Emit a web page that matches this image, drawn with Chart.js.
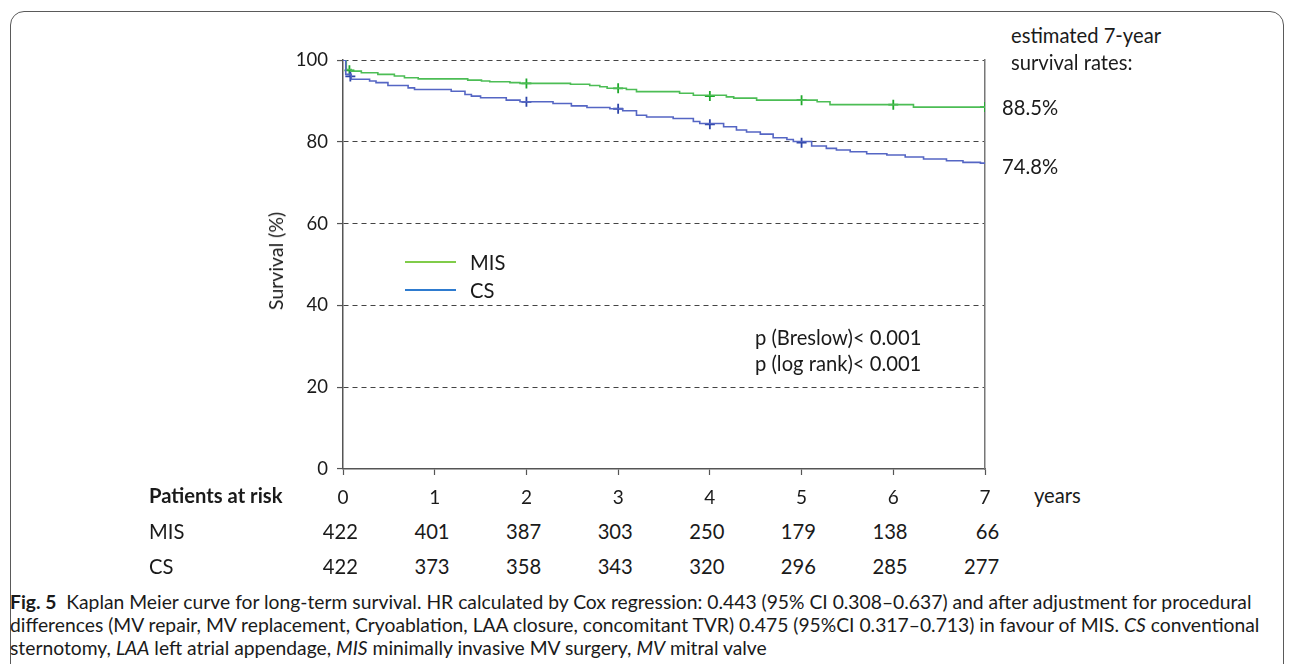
<!DOCTYPE html>
<html lang="en">
<head>
<meta charset="UTF-8">
<title>Kaplan Meier curve for long-term survival</title>
<script src="https://cdn.jsdelivr.net/npm/chart.js"></script>
<style>
  body { margin: 0; background: #fff; color: #1a1a1a; font-family: Lato, "Open Sans", sans-serif; }
  .frame { position: absolute; left: 10px; top: 11px; width: 1272px; height: 720px; border: 1px solid #5a5a5a; border-radius: 14px; }
  .box { position: absolute; left: 260px; top: 40px; width: 750px; height: 470px; }
  .t { position: absolute; white-space: nowrap; font-size: 20.2px; line-height: 22px; }
  .num { position: absolute; width: 60px; text-align: right; font-size: 20.2px; line-height: 22px; }
  .leg { position: absolute; height: 0; width: 51px; border-top: 2px solid; }
  .ylab { position: absolute; left: 276px; top: 261px; font-size: 19.5px; line-height: 22px; white-space: nowrap;
          transform: translate(-50%, -50%) rotate(-90deg); }
  .caption { position: absolute; left: 10px; top: 590px; font-size: 19.3px; line-height: 23px; white-space: nowrap; }
  .caption b { font-weight: 700; }
</style>
</head>
<body>
<div class="frame"></div>
<div class="box"><canvas id="km"></canvas></div>

<div class="t" style="left:1011px; top:24px">estimated 7-year</div>
<div class="t" style="left:1011px; top:51px">survival rates:</div>
<div class="t" style="left:1002px; top:96px">88.5%</div>
<div class="t" style="left:1002px; top:155px">74.8%</div>

<div class="leg" style="left:405px; top:261px; border-color:#80cc4a"></div>
<div class="t" style="left:470px; top:251px">MIS</div>
<div class="leg" style="left:405px; top:289px; border-color:#2e7bcf"></div>
<div class="t" style="left:470px; top:279px">CS</div>

<div class="t" style="left:755px; top:326px">p (Breslow)&lt; 0.001</div>
<div class="t" style="left:755px; top:352px">p (log rank)&lt; 0.001</div>

<div class="ylab">Survival (%)</div>

<div class="t" style="left:149px; top:484px; font-weight:700">Patients at risk</div>
<div class="t" style="left:1034px; top:484px">years</div>
<div class="t" style="left:149px; top:520px">MIS</div>
<div class="t" style="left:149px; top:555px">CS</div>
<div id="risk"></div>

<div class="caption">
<b>Fig. 5</b>&nbsp; Kaplan Meier curve for long-term survival. HR calculated by Cox regression: 0.443 (95% CI 0.308–0.637) and after adjustment for procedural<br>
differences (MV repair, MV replacement, Cryoablation, LAA closure, concomitant TVR) 0.475 (95%CI 0.317–0.713) in favour of MIS. <i>CS</i> conventional<br>
sternotomy, <i>LAA</i> left atrial appendage, <i>MIS</i> minimally invasive MV surgery, <i>MV</i> mitral valve
</div>

<script>
// years after surgery where a step happens, and survival (%) after the step
const misYears = [0, 0.036, 0.09, 0.2, 0.38, 0.56, 0.67, 0.82, 1.36, 1.51, 1.6, 1.82, 1.93, 2.48, 2.69, 2.8, 2.88, 3.09, 3.2, 3.67, 3.82, 4.18, 4.26, 4.51, 5.17, 5.31, 6.22, 7.0];
const misSurv  = [100, 97.7, 97.3, 96.9, 96.5, 96.1, 95.7, 95.4, 95.1, 94.9, 94.7, 94.5, 94.3, 94.1, 93.8, 93.5, 93.1, 92.8, 92.3, 91.9, 91.4, 91.0, 90.7, 90.2, 89.8, 89.1, 88.5, 88.5];

const csYears = [0, 0.03, 0.09, 0.29, 0.36, 0.49, 0.71, 0.78, 1.18, 1.33, 1.40, 1.5, 1.78, 1.93, 2.29, 2.49, 2.66, 2.91, 3.05, 3.2, 3.31, 3.6, 3.82, 3.89, 4.15, 4.29, 4.4, 4.55, 4.69, 4.84, 4.91, 5.11, 5.27, 5.38, 5.53, 5.71, 5.93, 6.13, 6.33, 6.58, 6.76, 6.95, 7.0];
const csSurv  = [100, 96.5, 95.3, 94.9, 94.5, 93.8, 93.2, 92.8, 92.4, 91.6, 91.2, 90.8, 90.2, 89.8, 89.4, 88.8, 88.4, 88.1, 87.6, 86.5, 86.1, 85.7, 85.0, 84.5, 83.7, 82.9, 82.4, 81.9, 81.0, 80.6, 80.1, 79.0, 78.4, 78.0, 77.6, 77.1, 76.8, 76.3, 75.8, 75.4, 75.0, 74.8, 74.8];

// censoring marks (+)
const misMarkYears = [0.07, 2, 3, 4, 5, 6, 7];
const misMarkSurv  = [97.5, 94.3, 93.1, 91.2, 90.2, 89.1, 88.5];
const csMarkYears  = [0.08, 2, 3, 4, 5];
const csMarkSurv   = [96.0, 89.8, 88.1, 84.3, 79.8];

// patients at risk
const riskYears = [0, 1, 2, 3, 4, 5, 6, 7];
const misRisk = [422, 401, 387, 303, 250, 179, 138, 66];
const csRisk  = [422, 373, 358, 343, 320, 296, 285, 277];

const pts = (xs, ys) => xs.map((x, i) => ({ x: x, y: ys[i] }));

const ctx = document.getElementById('km').getContext('2d');
const chart = new Chart(ctx, {
  type: 'line',
  data: {
    datasets: [
      { label: 'CS', data: pts(csYears, csSurv), stepped: true, borderColor: '#5566c4', borderWidth: 1.6, pointRadius: 0, fill: false },
      { label: 'MIS', data: pts(misYears, misSurv), stepped: true, borderColor: '#4cbd55', borderWidth: 1.6, pointRadius: 0, fill: false },
      { label: 'CS censored', data: pts(csMarkYears, csMarkSurv), showLine: false, pointStyle: 'cross', pointRadius: 5, borderColor: '#2d44a8', borderWidth: 1.8 },
      { label: 'MIS censored', data: pts(misMarkYears, misMarkSurv), showLine: false, pointStyle: 'cross', pointRadius: 5, borderColor: '#1fa82b', borderWidth: 1.8 }
    ]
  },
  options: {
    responsive: true,
    maintainAspectRatio: false,
    animation: false,
    layout: { padding: { left: 0, right: 25, top: 19, bottom: 0 } },
    plugins: { legend: { display: false }, tooltip: { enabled: false } },
    scales: {
      x: {
        type: 'linear', min: 0, max: 7,
        afterFit: s => { s.height = 41; },
        ticks: { stepSize: 1, color: '#1a1a1a', padding: 11, font: { family: 'Lato', size: 19 } },
        grid: { drawOnChartArea: false, drawTicks: true, tickLength: 6, tickColor: '#555', tickWidth: 1.2 },
        border: { color: '#555', width: 1.5 }
      },
      y: {
        min: 0, max: 100,
        afterFit: s => { s.width = 83; },
        ticks: { stepSize: 20, color: '#1a1a1a', padding: 9, font: { family: 'Lato', size: 18.5 } },
        grid: {
          color: c => (c.tick && c.tick.value === 0) ? 'rgba(0,0,0,0)' : '#444',
          lineWidth: 1.1, tickLength: 6, tickColor: '#555', tickWidth: 1.2
        },
        border: { color: '#555', width: 1.5, dash: [5, 4] }
      },
      y2: {
        position: 'right', min: 0, max: 100,
        afterFit: s => { s.width = 0; },
        ticks: { display: false },
        grid: { display: false },
        border: { color: '#777', width: 1.5 }
      }
    }
  }
});

// risk table numbers, right-aligned under each year tick
const risk = document.getElementById('risk');
const x0 = 343, dx = 91.6;
function addRow(vals, top) {
  vals.forEach((v, i) => {
    const d = document.createElement('div');
    d.className = 'num';
    d.style.left = (x0 + riskYears[i] * dx + 15 - 60) + 'px';
    d.style.top = top + 'px';
    d.textContent = v;
    risk.appendChild(d);
  });
}
addRow(misRisk, 520);
addRow(csRisk, 555);
</script>
</body>
</html>
